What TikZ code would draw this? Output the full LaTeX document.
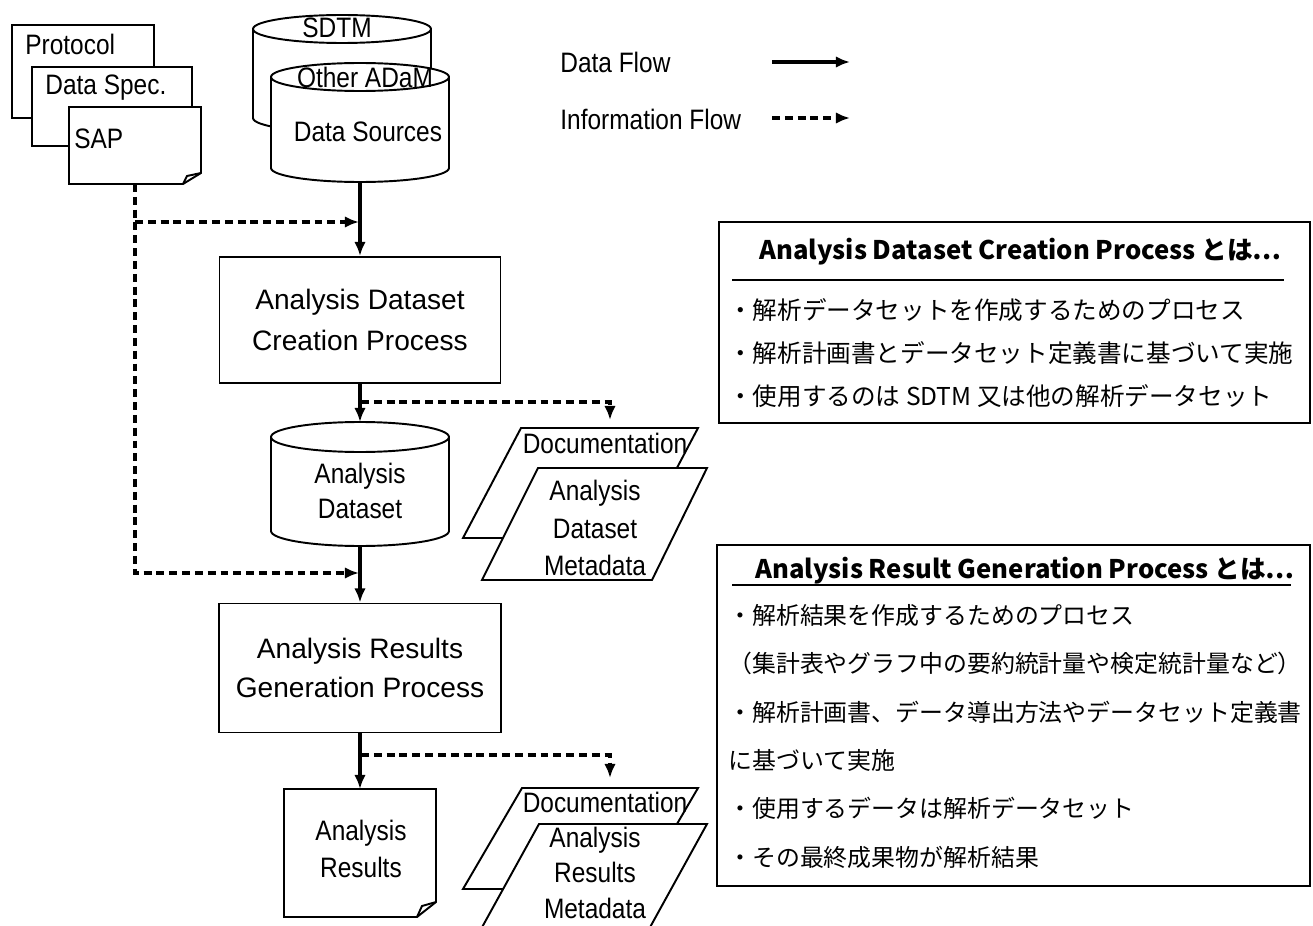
\documentclass[tikz,border=0pt]{standalone}
\usepackage{fontspec}
\setmainfont{Liberation Sans}
\newfontfamily\narrowfont{Liberation Sans}[FakeStretch=0.87]
\newfontfamily\jpfont{Noto Sans CJK JP}
\usetikzlibrary{arrows.meta}
\tikzset{
	shape line/.style={line width=1.1pt},
	dataflow/.style={line width=2.1pt, -{Latex[length=8pt,width=6.5pt]}},
	infoflow/.style={line width=2.1pt, dash pattern=on 4.5pt off 2.8pt, -{Latex[length=8pt,width=6.5pt]}},
	txt/.style={font=\narrowfont\fontsize{16}{19}\selectfont, inner sep=0pt},
	proc/.style={draw, line width=1.1pt, align=center, inner sep=0pt, minimum width=5.62cm, minimum height=2.52cm},
	jp/.style={font=\jpfont\fontsize{14}{17}\selectfont, inner sep=0pt, anchor=west},
	jptitle/.style={font=\jpfont\bfseries\fontsize{14.6}{18}\selectfont, inner sep=0pt, anchor=west}
}
\def\drum(#1,#2)(#3,#4,#5){\draw[shape line, fill=white] (#1-#3,#2) -- (#1-#3,#2+#5) arc (180:0:#3 and #4) -- (#1+#3,#2) arc (0:-180:#3 and #4) -- cycle; \draw[shape line] (#1-#3,#2) arc (180:0:#3 and #4);}
\begin{document}
\begin{tikzpicture}[x=0.02cm, y=-0.02cm]
				\useasboundingbox (0,0) rectangle (1313,926);
				
				\draw[shape line, fill=white] (12,25) rectangle (154,118);
				\node[txt, anchor=base west] (proto) at (25,55) {Protocol};
				\draw[shape line, fill=white] (32,67) rectangle (192,146);
				\node[txt, anchor=base west] (dspec) at (45,95) {Data Spec.};
				\draw[shape line, fill=white] (69,107) -- (201,107) -- (201,173) -- (183,184) -- (69,184) -- cycle;
				\draw[shape line] (183,184) -- (187,176) -- (201,173);
				\node[txt, anchor=base west] (sap) at (74,149) {SAP};
				\coordinate (sapbot) at (135,184);
				
				\drum(342,29)(89,14,89)
				\node[txt, anchor=base] (sdtm) at (337,38) {SDTM};
				\drum(360,77)(89,14,91)
				\node[txt, anchor=base] (adam) at (365,88) {Other ADaM};
				\node[txt, anchor=base] (dsrc) at (368,142) {Data Sources};
				\coordinate (dsrcbot) at (360,182);
				
				\node[txt, anchor=base west] (lgdata) at (560,73) {Data Flow};
				\node[txt, anchor=base west] (lginfo) at (560,130) {Information Flow};
				\coordinate (la1) at (772,62);
				\coordinate (la2) at (850,62);
				\coordinate (lb1) at (772,118);
				\coordinate (lb2) at (850,118);
				\draw[dataflow] (la1) -- (la2);
				\draw[infoflow] (lb1) -- (lb2);
				
				\node[proc, font=\fontsize{16}{23.8}\selectfont] (adcp) at (360,320) {Analysis Dataset\\Creation Process};
				
				\drum(360,437)(89,15,94)
				\node[txt, anchor=north, align=center, font=\narrowfont\fontsize{16}{19.8}\selectfont] (ads) at (360,463) {Analysis\\Dataset};
				\coordinate (adstop) at (360,422);
				\coordinate (adsbot) at (360,546);
				
				\draw[shape line, fill=white] (521,428) -- (698,428) -- (640,538) -- (463,538) -- cycle;
				\node[txt, anchor=base] (doc1) at (605,453) {Documentation};
				\draw[shape line, fill=white] (538,468) -- (707,468) -- (652,580) -- (482,580) -- cycle;
				\node[txt, anchor=north, align=center, font=\narrowfont\fontsize{16}{21.3}\selectfont] (meta1) at (595,480) {Analysis\\Dataset\\Metadata};
				
				\node[proc, minimum width=5.64cm, minimum height=2.58cm, font=\fontsize{16}{22.1}\selectfont] (argp) at (360,668) {Analysis Results\\Generation Process};
				
				\draw[shape line, fill=white] (284,789) -- (436,789) -- (436,902) -- (417,917) -- (284,917) -- cycle;
				\draw[shape line] (417,917) -- (422,906) -- (436,902);
				\node[txt, anchor=north, align=center, font=\narrowfont\fontsize{16}{21}\selectfont] (ares) at (361,820) {Analysis\\Results};
				\coordinate (arestop) at (360,789);
				
				\draw[shape line, fill=white] (522,788) -- (698,788) -- (639,889) -- (463,889) -- cycle;
				\node[txt, anchor=base] (doc2) at (605,812) {Documentation};
				\draw[shape line, fill=white] (539,824) -- (707,824) -- (643,940) -- (475,940) -- cycle;
				\node[txt, anchor=north, align=center, font=\narrowfont\fontsize{16}{20}\selectfont] (meta2) at (595,827) {Analysis\\Results\\Metadata};
				
				\draw[dataflow] (dsrcbot) -- (adcp.north);
				\draw[dataflow] (adcp.south) -- (adstop);
				\draw[dataflow] (adsbot) -- (argp.north);
				\draw[dataflow] (argp.south) -- (arestop);
				
				\coordinate (j1) at (359,222);
				\coordinate (j2) at (359,573);
				\draw[infoflow] (sapbot) |- (j2);
				\draw[infoflow] (sapbot |- j1) -- (j1);
				\coordinate (b1) at (361,402);
				\coordinate (m1) at (610,420);
				\draw[infoflow] (b1) -| (m1);
				\coordinate (b2) at (361,755);
				\coordinate (m2) at (610,778);
				\draw[infoflow] (b2) -| (m2);
				
				\draw[shape line] (719,222) rectangle (1310,423);
				\node[jptitle] (t1) at (759,252) {Analysis Dataset Creation Process とは…};
				\draw[line width=1.3pt] (732,280) -- (1284,280);
				\node[jp] (a1) at (728,310) {・解析データセットを作成するためのプロセス};
				\node[jp] (a2) at (728,353) {・解析計画書とデータセット定義書に基づいて実施};
				\node[jp] (a3) at (728,396) {・使用するのは SDTM 又は他の解析データセット};
				
				\draw[shape line] (717,545) rectangle (1310,886);
				\node[jptitle] (t2) at (755,571) {Analysis Result Generation Process とは…};
				\draw[line width=1.3pt] (732,585) -- (1291,585);
				\node[jp, font=\jpfont\fontsize{13.6}{17}\selectfont] (r1) at (728,615) {・解析結果を作成するためのプロセス};
				\node[jp, font=\jpfont\fontsize{13.6}{17}\selectfont] (r2) at (728,663) {（集計表やグラフ中の要約統計量や検定統計量など）};
				\node[jp, font=\jpfont\fontsize{13.6}{17}\selectfont] (r3) at (728,712) {・解析計画書、データ導出方法やデータセット定義書};
				\node[jp, font=\jpfont\fontsize{13.6}{17}\selectfont] (r4) at (728,760) {に基づいて実施};
				\node[jp, font=\jpfont\fontsize{13.6}{17}\selectfont] (r5) at (728,808) {・使用するデータは解析データセット};
				\node[jp, font=\jpfont\fontsize{13.6}{17}\selectfont] (r6) at (728,857) {・その最終成果物が解析結果};
			\end{tikzpicture}
\end{document}
